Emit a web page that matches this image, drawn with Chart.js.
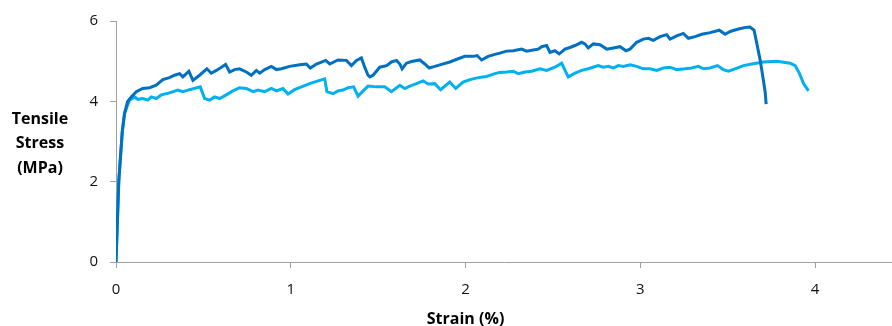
<!DOCTYPE html>
<html>
<head>
<meta charset="utf-8">
<script src="https://cdn.jsdelivr.net/npm/chart.js@4.4.1/dist/chart.umd.min.js"></script>
<style>
  html, body { margin: 0; padding: 0; background: #fff; overflow: hidden; }
  #wrap { width: 892px; height: 326px; }
</style>
</head>
<body>
<div id="wrap"><canvas id="chart"></canvas></div>
<script>
// sample 1 (dark blue)
var strainA = [0, 0.016, 0.036, 0.049, 0.066, 0.087, 0.116, 0.153, 0.192, 0.230, 0.268, 0.306, 0.335, 0.364, 0.383, 0.417, 0.440, 0.478, 0.520, 0.545, 0.574, 0.603, 0.627, 0.650, 0.679, 0.707, 0.746, 0.774, 0.803, 0.822, 0.851, 0.889, 0.918, 0.946, 0.994, 1.051, 1.089, 1.112, 1.147, 1.200, 1.223, 1.270, 1.318, 1.347, 1.376, 1.404, 1.423, 1.442, 1.452, 1.471, 1.509, 1.548, 1.576, 1.605, 1.624, 1.637, 1.662, 1.691, 1.738, 1.767, 1.792, 1.824, 1.863, 1.910, 1.958, 1.996, 2.044, 2.066, 2.092, 2.129, 2.168, 2.196, 2.235, 2.273, 2.321, 2.349, 2.387, 2.416, 2.435, 2.464, 2.483, 2.511, 2.536, 2.569, 2.597, 2.626, 2.664, 2.683, 2.702, 2.731, 2.769, 2.808, 2.845, 2.884, 2.918, 2.941, 2.979, 3.017, 3.046, 3.074, 3.113, 3.151, 3.170, 3.208, 3.246, 3.275, 3.313, 3.352, 3.399, 3.452, 3.485, 3.514, 3.561, 3.600, 3.628, 3.651, 3.667, 3.686, 3.701, 3.714, 3.720];
var stressA = [0, 2.02, 3.25, 3.70, 3.99, 4.11, 4.24, 4.32, 4.34, 4.40, 4.54, 4.59, 4.65, 4.69, 4.61, 4.75, 4.52, 4.65, 4.81, 4.70, 4.77, 4.85, 4.92, 4.73, 4.79, 4.81, 4.73, 4.65, 4.77, 4.70, 4.79, 4.87, 4.79, 4.81, 4.87, 4.91, 4.93, 4.83, 4.93, 5.02, 4.93, 5.03, 5.02, 4.89, 5.02, 5.08, 4.85, 4.65, 4.61, 4.65, 4.85, 4.89, 4.98, 5.02, 4.93, 4.81, 4.95, 4.99, 5.03, 4.93, 4.83, 4.87, 4.92, 4.98, 5.06, 5.12, 5.12, 5.14, 5.03, 5.12, 5.17, 5.20, 5.25, 5.26, 5.30, 5.25, 5.28, 5.30, 5.36, 5.39, 5.22, 5.26, 5.18, 5.30, 5.34, 5.39, 5.47, 5.43, 5.33, 5.43, 5.41, 5.30, 5.33, 5.36, 5.26, 5.30, 5.47, 5.55, 5.57, 5.52, 5.61, 5.66, 5.55, 5.63, 5.69, 5.57, 5.61, 5.67, 5.71, 5.77, 5.67, 5.74, 5.80, 5.84, 5.85, 5.77, 5.43, 5.02, 4.61, 4.24, 3.93];

// sample 2 (light blue)
var strainB = [0, 0.016, 0.036, 0.049, 0.077, 0.106, 0.125, 0.153, 0.182, 0.202, 0.230, 0.259, 0.306, 0.354, 0.383, 0.421, 0.482, 0.507, 0.536, 0.564, 0.593, 0.631, 0.669, 0.707, 0.746, 0.784, 0.812, 0.851, 0.889, 0.918, 0.955, 0.984, 1.022, 1.061, 1.108, 1.156, 1.194, 1.207, 1.242, 1.270, 1.299, 1.328, 1.360, 1.385, 1.414, 1.442, 1.490, 1.538, 1.576, 1.624, 1.652, 1.681, 1.719, 1.757, 1.786, 1.824, 1.857, 1.910, 1.944, 1.986, 2.025, 2.072, 2.120, 2.168, 2.196, 2.235, 2.273, 2.301, 2.340, 2.378, 2.426, 2.464, 2.511, 2.550, 2.569, 2.588, 2.626, 2.664, 2.702, 2.759, 2.788, 2.817, 2.845, 2.874, 2.903, 2.941, 2.979, 3.017, 3.056, 3.094, 3.132, 3.170, 3.208, 3.256, 3.294, 3.332, 3.361, 3.399, 3.441, 3.475, 3.504, 3.542, 3.590, 3.638, 3.704, 3.781, 3.857, 3.886, 3.911, 3.934, 3.962];
var stressB = [0, 2.02, 3.25, 3.70, 4.03, 4.11, 4.05, 4.07, 4.03, 4.11, 4.07, 4.16, 4.21, 4.28, 4.24, 4.29, 4.36, 4.07, 4.03, 4.11, 4.07, 4.16, 4.26, 4.34, 4.32, 4.24, 4.28, 4.24, 4.32, 4.26, 4.32, 4.18, 4.29, 4.36, 4.44, 4.51, 4.56, 4.24, 4.19, 4.26, 4.28, 4.34, 4.36, 4.13, 4.26, 4.38, 4.36, 4.36, 4.24, 4.40, 4.32, 4.38, 4.44, 4.51, 4.43, 4.44, 4.29, 4.48, 4.32, 4.48, 4.54, 4.59, 4.62, 4.69, 4.72, 4.73, 4.75, 4.69, 4.73, 4.75, 4.81, 4.77, 4.85, 4.95, 4.77, 4.61, 4.70, 4.77, 4.81, 4.89, 4.85, 4.87, 4.83, 4.89, 4.87, 4.91, 4.87, 4.81, 4.81, 4.77, 4.83, 4.85, 4.79, 4.81, 4.83, 4.87, 4.81, 4.83, 4.89, 4.79, 4.75, 4.81, 4.89, 4.93, 4.98, 5.00, 4.95, 4.89, 4.69, 4.44, 4.26];

var xTicks = [0, 1, 2, 3, 4];
var yTicks = [0, 2, 4, 6];
var xTitle = "Strain (%)";
var yTitle = ["Tensile", "Stress", "(MPa)"];

function pts(xs, ys) {
    var out = [];
    for (var i = 0; i < xs.length; i++) out.push({ x: xs[i], y: ys[i] });
    return out;
}

// axis titles drawn by hand (the y title is horizontal, on three lines)
var axisTitles = {
    id: 'axisTitles',
    afterDraw: function (chart) {
        var c = chart.ctx, a = chart.chartArea;
        var xs = chart.scales.x;
        c.save();
        c.fillStyle = '#000';
        c.textAlign = 'center';
        c.textBaseline = 'middle';
        c.font = 'bold 16px "Open Sans"';
        var cy = (a.top + a.bottom) / 2 + 2;
        for (var i = 0; i < yTitle.length; i++) {
            c.fillText(yTitle[i], 40, cy + (i - 1) * 24.5);
        }
        var mid = xs.getPixelForValue((xTicks[0] + xTicks[xTicks.length - 1]) / 2);
        c.fillText(xTitle, mid, 319);
        c.restore();
    }
};

var ctx = document.getElementById('chart');
var grafico = new Chart(ctx, {
    type: 'line',
    data: {
        datasets: [{
            label: 'Sample 1',
            data: pts(strainA, stressA),
            borderColor: '#0070C0',
            borderWidth: 3,
            pointRadius: 0,
            tension: 0,
            fill: false
        }, {
            label: 'Sample 2',
            data: pts(strainB, stressB),
            borderColor: '#00B0F0',
            borderWidth: 3,
            pointRadius: 0,
            tension: 0,
            fill: false
        }]
    },
    options: {
        responsive: true,
        maintainAspectRatio: false,
        animation: false,
        layout: { padding: { top: 18, right: 0, left: 0, bottom: 0 } },
        plugins: { legend: { display: false }, tooltip: { enabled: false } },
        scales: {
            x: {
                type: 'linear',
                min: 0,
                max: 4.44,
                afterBuildTicks: function (s) { s.ticks = xTicks.map(function (v) { return { value: v }; }); },
                afterFit: function (s) { s.height = 64; },
                grid: { drawOnChartArea: false, tickLength: 6, color: '#A0A0A0' },
                border: { color: '#A0A0A0', width: 1 },
                ticks: { color: '#111', font: { family: 'Open Sans', size: 15 }, padding: 13, maxRotation: 0 }
            },
            y: {
                min: 0,
                max: 6,
                afterBuildTicks: function (s) { s.ticks = yTicks.map(function (v) { return { value: v }; }); },
                afterFit: function (s) { s.width = 116; },
                grid: { drawOnChartArea: false, tickLength: 6, color: '#A0A0A0' },
                border: { color: '#A0A0A0', width: 1 },
                ticks: { color: '#111', font: { family: 'Open Sans', size: 15 }, padding: 12 }
            }
        }
    },
    plugins: [axisTitles]
});
</script>
</body>
</html>
